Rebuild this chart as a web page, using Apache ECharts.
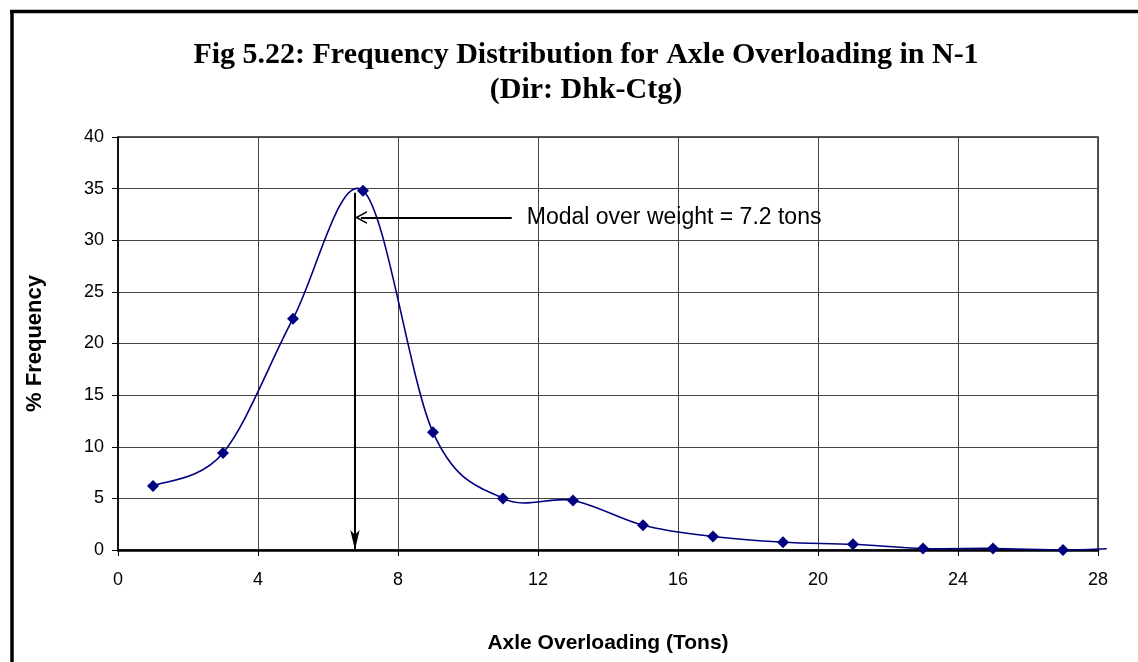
<!DOCTYPE html>
<html>
<head>
<meta charset="utf-8">
<script src="https://cdn.jsdelivr.net/npm/echarts@6/dist/echarts.min.js"></script>
<style>
  html, body { margin: 0; padding: 0; background: #fff; }
  #chart { width: 1138px; height: 662px; }
</style>
</head>
<body>
<div id="chart"></div>
<script>
// Axle overloading (tons) and share of axles (% frequency)
const overloadTons = [1, 3, 5, 7, 9, 11, 13, 15, 17, 19, 21, 23, 25, 27];
const frequencyPct = [6.2, 9.4, 22.4, 34.8, 11.4, 5.0, 4.8, 2.4, 1.3, 0.75, 0.55, 0.15, 0.15, 0.0];
// trailing end of the fitted curve, drawn without a marker
const tailPoint = [28.25, 0.12];

const xTicks = { min: 0, max: 28, step: 4 };
const yTicks = { min: 0, max: 40, step: 5 };

// modal-weight annotation
const modalNote = 'Modal over weight = 7.2 tons';
const modalArrowX = 6.77;
const modalArrowTop = 34.6;
const noteArrowY = 32.2;
const noteArrowStartX = 11.25;

const titleLines = ['Fig 5.22: Frequency Distribution for Axle Overloading in N-1', '(Dir: Dhk-Ctg)'];
const xName = 'Axle Overloading (Tons)';
const yName = '% Frequency';

const NAVY = '#000080';
const SANS = '"Liberation Sans", Arial, sans-serif';
const SERIF = '"Liberation Serif", "Times New Roman", serif';

const markerPoints = overloadTons.map((x, i) => [x, frequencyPct[i]]);
const curvePoints = markerPoints.concat([tailPoint]);

// Smoothed curve: cubic Bezier segments with Catmull-Rom tangents,
// computed in pixel space from the axis scales.
function renderCurveSegment(params, api) {
  const i = params.dataIndex;
  if (i >= curvePoints.length - 1) return null;
  const px = (k) => api.coord(curvePoints[Math.max(0, Math.min(curvePoints.length - 1, k))]);
  const p0 = px(i - 1), p1 = px(i), p2 = px(i + 1), p3 = px(i + 2);
  const t = 1 / 6;
  return {
    type: 'bezierCurve',
    shape: {
      x1: p1[0], y1: p1[1],
      cpx1: p1[0] + (p2[0] - p0[0]) * t, cpy1: p1[1] + (p2[1] - p0[1]) * t,
      cpx2: p2[0] - (p3[0] - p1[0]) * t, cpy2: p2[1] - (p3[1] - p1[1]) * t,
      x2: p2[0], y2: p2[1]
    },
    style: { stroke: NAVY, lineWidth: 1.6, fill: null }
  };
}

// open chevron pointing up (markLine rotates it along the line)
const chevron = 'path://M0,12 L6,0 L12,12 L10.4,12 L6,3.2 L1.6,12 Z';

const chart = echarts.init(document.getElementById('chart'), null, { renderer: 'canvas' });

chart.setOption({
  animation: false,
  backgroundColor: '#fff',
  title: {
    text: titleLines.join('\n'),
    left: 581,
    top: 33,
    textAlign: 'center',
    textStyle: {
      fontFamily: SERIF,
      fontWeight: 'bold',
      fontSize: 30,
      lineHeight: 35,
      color: '#000'
    }
  },
  graphic: [
    // outer frame (left and top edges)
    { type: 'line', shape: { x1: 12, y1: 10, x2: 12, y2: 662 }, style: { stroke: '#000', lineWidth: 3.5 } },
    { type: 'line', shape: { x1: 10, y1: 11.5, x2: 1138, y2: 11.5 }, style: { stroke: '#000', lineWidth: 3.5 } }
  ],
  grid: {
    left: 118,
    right: 40,
    top: 137,
    bottom: 112,
    show: true,
    borderColor: '#222',
    borderWidth: 1.5,
    backgroundColor: 'transparent'
  },
  xAxis: {
    type: 'value',
    min: xTicks.min,
    max: xTicks.max,
    interval: xTicks.step,
    name: xName,
    nameLocation: 'middle',
    nameGap: 83,
    nameTextStyle: { fontFamily: SANS, fontWeight: 'bold', fontSize: 21, color: '#000' },
    axisLine: { show: true, onZero: false, lineStyle: { color: '#000', width: 2.5 } },
    axisTick: { show: true, inside: false, length: 6, lineStyle: { color: '#000', width: 1 } },
    axisLabel: { fontFamily: SANS, fontSize: 18, color: '#000', margin: 21 },
    splitLine: { show: true, lineStyle: { color: '#444', width: 1 } }
  },
  yAxis: {
    type: 'value',
    min: yTicks.min,
    max: yTicks.max,
    interval: yTicks.step,
    name: yName,
    nameLocation: 'middle',
    nameRotate: 90,
    nameGap: 72,
    nameTextStyle: { fontFamily: SANS, fontWeight: 'bold', fontSize: 22, color: '#000' },
    axisLine: { show: true, lineStyle: { color: '#000', width: 1.5 } },
    axisTick: { show: true, inside: false, length: 6, lineStyle: { color: '#000', width: 1 } },
    axisLabel: { fontFamily: SANS, fontSize: 18, color: '#000', margin: 14 },
    splitLine: { show: true, lineStyle: { color: '#444', width: 1 } }
  },
  series: [
    {
      type: 'custom',
      name: 'curve',
      data: curvePoints,
      renderItem: renderCurveSegment,
      clip: false,
      silent: true,
      z: 3
    },
    {
      type: 'scatter',
      name: 'frequency',
      data: markerPoints,
      symbol: 'diamond',
      symbolSize: 12,
      itemStyle: { color: NAVY, opacity: 1 },
      z: 4,
      markLine: {
        silent: true,
        animation: false,
        precision: 2,
        lineStyle: { color: '#000', width: 2, type: 'solid' },
        label: { show: false },
        data: [
          [
            { coord: [modalArrowX, modalArrowTop], symbol: 'none' },
            { coord: [modalArrowX, 0], symbol: 'arrow', symbolSize: [7, 20] }
          ],
          [
            {
              coord: [noteArrowStartX, noteArrowY],
              symbol: 'none',
              label: {
                show: true,
                position: 'start',
                distance: 15,
                formatter: modalNote,
                fontFamily: SANS,
                fontSize: 23,
                color: '#000'
              }
            },
            { coord: [modalArrowX + 0.17, noteArrowY], symbol: chevron, symbolSize: [13, 12] }
          ]
        ]
      }
    }
  ]
});
</script>
</body>
</html>
